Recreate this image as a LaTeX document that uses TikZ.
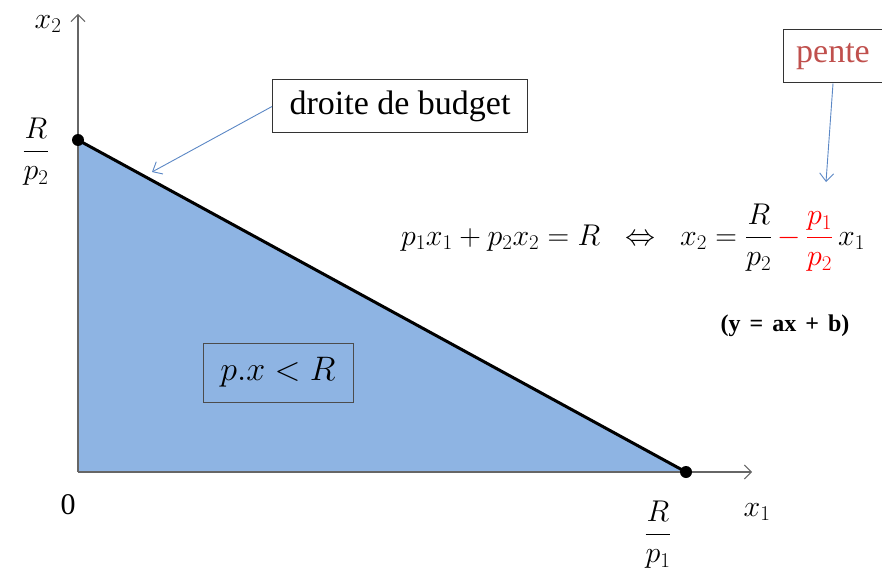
\RequirePackage{fix-cm}
\documentclass[tikz,border=0pt]{standalone}
\usepackage{amsmath}
\usepackage{fontspec}
\setmainfont{Liberation Serif}
\usetikzlibrary{arrows.meta}
\definecolor{fillblue}{HTML}{8EB4E3}
\definecolor{arrowblue}{HTML}{5B87C5}
\definecolor{pentered}{HTML}{C0504D}
\tikzset{
  axis/.style={draw=gray!80!black, line width=1.1pt, -{Straight Barb[length=7pt,width=14pt,line width=1pt]}},
  callout/.style={draw=arrowblue, line width=0.9pt, -{Straight Barb[length=8pt,width=14pt,line width=0.9pt]}},
  labelbox/.style={draw=black!80, line width=1pt, inner sep=0pt, align=center},
  dot/.style={circle, fill=black, inner sep=0pt, minimum size=12pt},
  big/.style={font=\fontsize{30}{36}\selectfont},
  boxtext/.style={font=\fontsize{34}{40}\selectfont},
}
\begin{document}
\begin{tikzpicture}[x=1pt,y=-1pt]
\useasboundingbox (0,0) rectangle (882,588);
% area
\fill[fillblue] (78,140) -- (686,472) -- (78,472) -- cycle;
% axes
\coordinate (O) at (78,472);
\coordinate (Ytip) at (78,14);
\coordinate (Xtip) at (752,472);
\draw[axis] (O) -- (Ytip);
\draw[axis] (O) -- (Xtip);
% budget line
\node[dot] (A) at (78,140) {};
\node[dot] (B) at (686,472) {};
\draw[line width=3pt] (A.center) -- (B.center);
% axis labels
\node[big] (x2) at (48,24) {$x_2$};
\node[big] (x1) at (757,512) {$x_1$};
\node[big] (zero) at (68,505) {0};
\node[big] (Rp2) at (36,152) {$\dfrac{R}{p_2}$};
\node[big] (Rp1) at (658,535) {$\dfrac{R}{p_1}$};
% boxes
\node[labelbox, boxtext, minimum width=255pt, minimum height=53pt] (budget) at (400,106.5) {droite de budget};
\coordinate (budgetpt) at (152,172);
\draw[callout] (budget.west) -- (budgetpt);
\node[labelbox, boxtext, text=pentered, minimum width=100pt, minimum height=53pt] (pente) at (833,56.5) {pente};
\coordinate (pentept) at (826,182);
\draw[callout] (pente.south) -- (pentept);
\node[labelbox, draw=black!70, minimum width=150pt, minimum height=59pt, font=\fontsize{34}{40}\selectfont] (pxr) at (278,372.5) {$p.x<R$};
% equation
\node[font=\fontsize{30}{36}\selectfont, anchor=base] (eq) at (633,245) {$p_1x_1+p_2x_2=R\;\;\Leftrightarrow\;\;x_2=\dfrac{R}{p_2}\,\textcolor{red}{-\,\dfrac{p_1}{p_2}}\,x_1$};
\node[font=\fontsize{24}{28}\selectfont\bfseries] (yax) at (785,326) {(y\hspace{9pt}=\hspace{9pt}ax\hspace{9pt}+\hspace{9pt}b)};
\end{tikzpicture}
\end{document}
